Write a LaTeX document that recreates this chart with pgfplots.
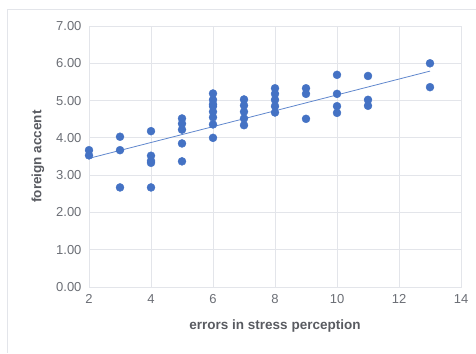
\documentclass[border=0pt]{standalone}
\usepackage{pgfplots}
\pgfplotsset{compat=1.18}
\usepackage{fontspec}
\setmainfont{Liberation Sans}
\definecolor{pt}{HTML}{4472C4}
\definecolor{gridc}{HTML}{E3E5EA}
\definecolor{axc}{HTML}{D4D7DD}
\definecolor{tickc}{HTML}{6B6E75}
\definecolor{titc}{HTML}{595B61}
\begin{document}
\begin{tikzpicture}[x=1pt,y=1pt]
\path[use as bounding box] (0,0) rectangle (476,353);
\draw[gridc, line width=0.8pt] (7,0) -- (7,344) -- (476,344);
\begin{axis}[
  at={(89pt,66pt)}, anchor=south west,
  scale only axis, width=372pt, height=261pt,
  xmin=2, xmax=14, ymin=0, ymax=7,
  xtick={2,4,...,14}, ytick={0,1,...,7},
  /pgf/number format/assume math mode=true,
  yticklabel={\pgfmathprintnumber[fixed,fixed zerofill,precision=2]{\tick}},
  tick style={draw=none},
  grid=major, major grid style={gridc, line width=0.8pt},
  axis line style={gridc, line width=0.8pt},
  ticklabel style={font=\fontsize{13}{15}\selectfont, text=tickc},
  yticklabel style={xshift=-4pt},
  xticklabel style={yshift=-4pt},
  xlabel={errors in stress perception},
  ylabel={foreign accent},
  label style={font=\fontsize{13.5}{16}\selectfont\bfseries, text=titc},
  xlabel style={yshift=-9pt},
  ylabel style={yshift=5pt},
  clip=false,
]
\addplot[only marks, mark=*, mark size=4pt, mark options={fill=pt, draw=pt}] coordinates {
(2,3.67) (2,3.53)
(3,4.03) (3,3.67) (3,2.67)
(4,4.18) (4,3.52) (4,3.38) (4,3.33) (4,2.67)
(5,4.52) (5,4.38) (5,4.22) (5,3.85) (5,3.37)
(6,5.19) (6,5.02) (6,4.90) (6,4.85) (6,4.70) (6,4.55) (6,4.36) (6,4.00)
(7,5.03) (7,4.87) (7,4.70) (7,4.52) (7,4.34)
(8,5.33) (8,5.18) (8,5.02) (8,4.85) (8,4.68)
(9,5.33) (9,5.18) (9,4.51)
(10,5.69) (10,5.18) (10,4.85) (10,4.67)
(11,5.66) (11,5.02) (11,4.86)
(13,6.00) (13,5.36)
};
\addplot[pt!85, line width=0.8pt] coordinates {(2,3.45) (13,5.79)};
\end{axis}
\end{tikzpicture}
\end{document}
